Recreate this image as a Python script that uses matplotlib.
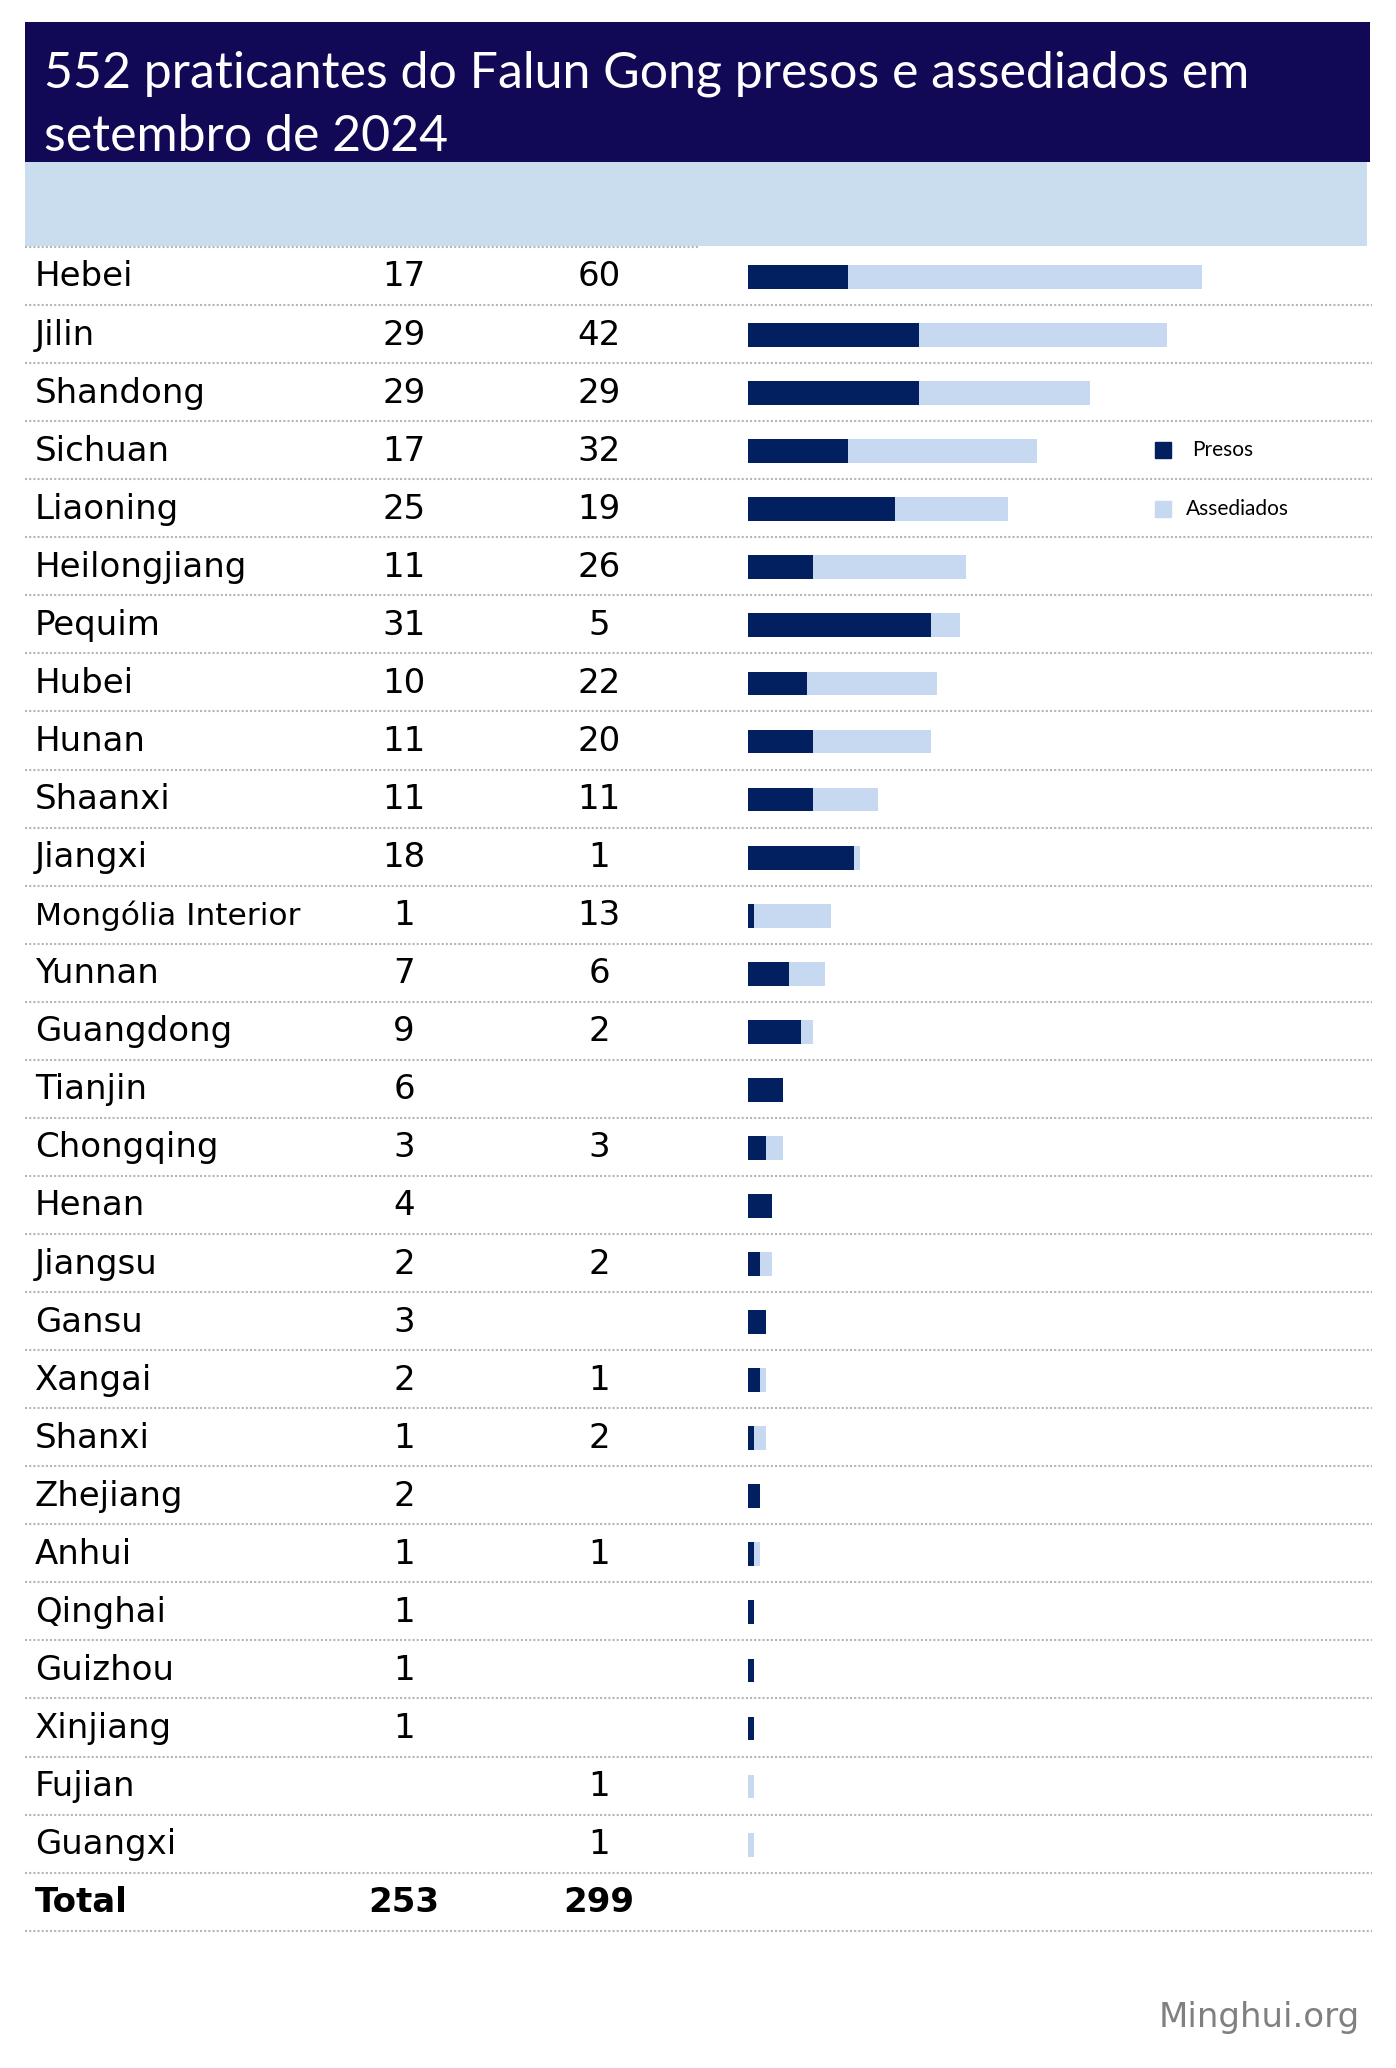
import matplotlib.pyplot as plt
from matplotlib.patches import Rectangle

# data
regions = ["Hebei", "Jilin", "Shandong", "Sichuan", "Liaoning", "Heilongjiang",
           "Pequim", "Hubei", "Hunan", "Shaanxi", "Jiangxi", "Mongólia Interior",
           "Yunnan", "Guangdong", "Tianjin", "Chongqing", "Henan", "Jiangsu",
           "Gansu", "Xangai", "Shanxi", "Zhejiang", "Anhui", "Qinghai",
           "Guizhou", "Xinjiang", "Fujian", "Guangxi"]
presos = [17, 29, 29, 17, 25, 11, 31, 10, 11, 11, 18, 1, 7, 9, 6, 3, 4, 2,
          3, 2, 1, 2, 1, 1, 1, 1, 0, 0]
assediados = [60, 42, 29, 32, 19, 26, 5, 22, 20, 11, 1, 13, 6, 2, 0, 3, 0, 2,
              0, 1, 2, 0, 1, 0, 0, 0, 1, 1]
title = "552 praticantes do Falun Gong presos e assediados em\nsetembro de 2024"
legend_labels = ["Presos", "Assediados"]

navy = "#02205F"
light = "#C6D9F0"
header_col = "#110856"
band_col = "#C9DDEF"

W, H = 1396, 2068
row_y0, row_h = 277, 58.06   # pixel centre of first row, row spacing
bar_x0, px_per_unit = 748, 5.9

fig = plt.figure(figsize=(W / 100, H / 100), dpi=100)
lay = fig.add_axes([0, 0, 1, 1])
lay.set_xlim(0, W)
lay.set_ylim(H, 0)
lay.axis("off")

# header
lay.add_patch(Rectangle((25, 22), 1345, 140, color=header_col, lw=0))
lay.add_patch(Rectangle((25, 162), 1342, 84, color=band_col, lw=0))
lay.text(44, 105, title, color="white", fontsize=36, family="Lato",
         va="center", ha="left", linespacing=1.45)

font = "DejaVu Sans"
n = len(regions)
for i, name in enumerate(regions):
    y = row_y0 + i * row_h
    size = 22.5 if len(name) > 14 else 24.5
    lay.text(35, y, name, fontsize=size, family=font, va="center", ha="left")
    if presos[i]:
        lay.text(404, y, str(presos[i]), fontsize=24.5, family=font, va="center", ha="center")
    if assediados[i]:
        lay.text(599, y, str(assediados[i]), fontsize=24.5, family=font, va="center", ha="center")

y_tot = row_y0 + n * row_h
lay.text(35, y_tot, "Total", fontsize=24.5, family=font, weight="bold", va="center")
lay.text(404, y_tot, str(sum(presos)), fontsize=24.5, family=font, weight="bold",
         va="center", ha="center")
lay.text(599, y_tot, str(sum(assediados)), fontsize=24.5, family=font, weight="bold",
         va="center", ha="center")

# dotted dividers
lay.plot([25, 700], [247, 247], color="#b5b5b5", lw=1.5, ls=(0, (1, 1)))
for i in range(n + 1):
    y = row_y0 + i * row_h + row_h / 2 - 1
    lay.plot([25, 1372], [y, y], color="#b5b5b5", lw=1.5, ls=(0, (1, 1)))

# legend
for k, (lab, col) in enumerate(zip(legend_labels, [navy, light])):
    y = 450 + k * 59
    lay.plot(1163, y, marker="s", ms=11, color=col, mec=col)
    lay.text(1192 if k == 0 else 1186, y, lab, fontsize=15, family="Lato", va="center")

lay.text(1360, 2017, "Minghui.org", fontsize=24.5, color="#808080", family=font,
         ha="right", va="center")

# bars
bx = fig.add_axes([0, 0, 1, 1])
bx.patch.set_alpha(0)
bx.set_xlim(-bar_x0 / px_per_unit, (W - bar_x0) / px_per_unit)
bx.set_ylim((H - row_y0) / row_h, -row_y0 / row_h)
bx.axis("off")
rows = list(range(n))
bx.barh(rows, presos, height=0.41, color=navy, lw=0)
bx.barh(rows, assediados, left=presos, height=0.41, color=light, lw=0)

fig.savefig("out.png", dpi=100)
